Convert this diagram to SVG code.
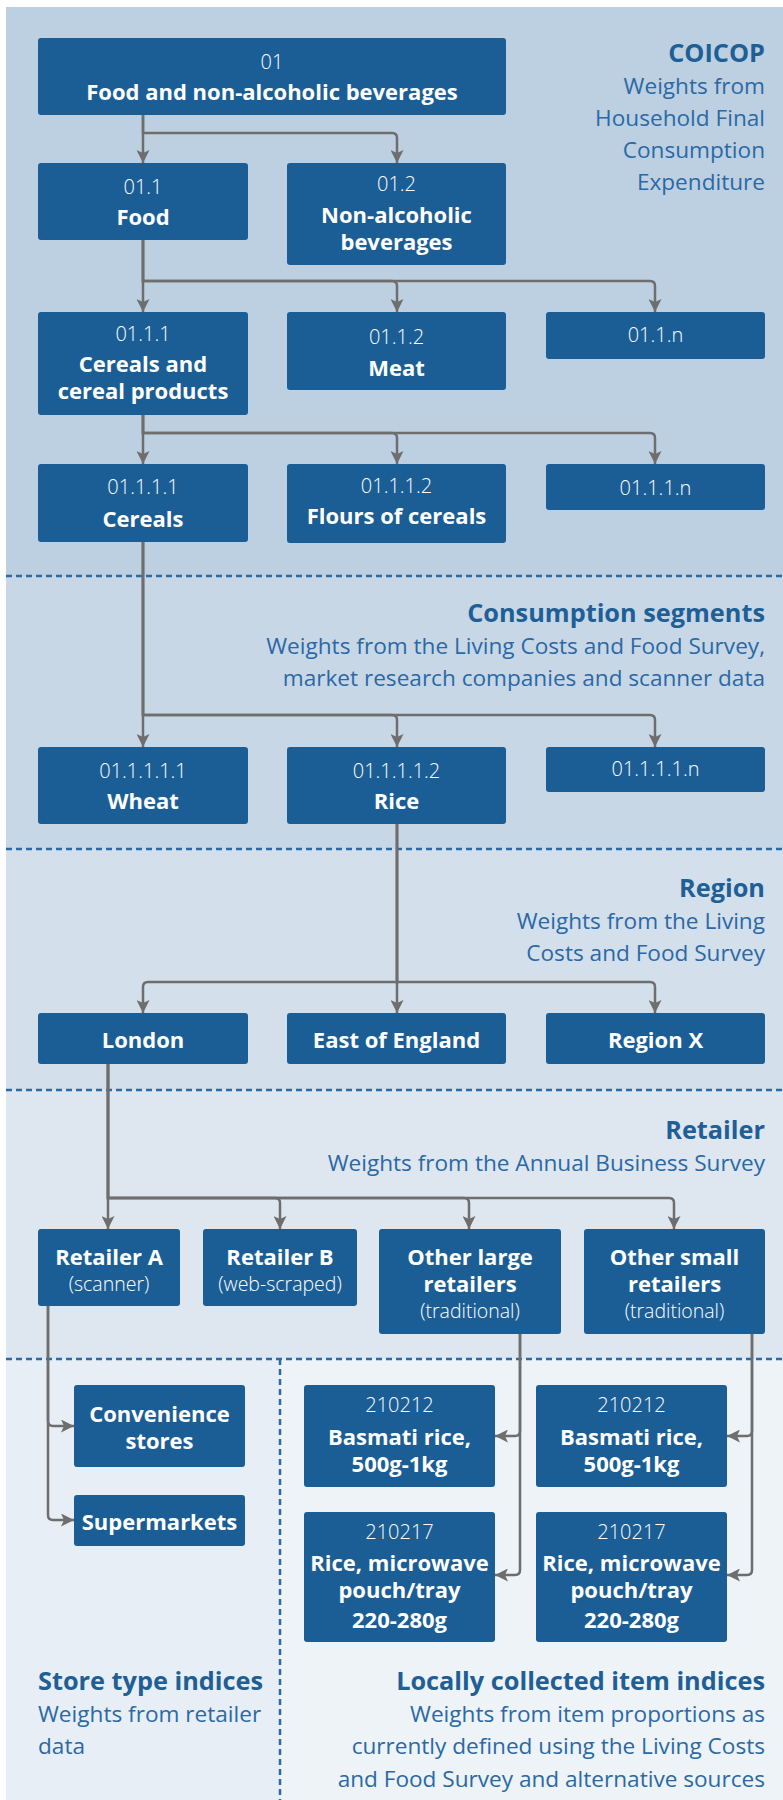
<svg xmlns="http://www.w3.org/2000/svg" width="783" height="1800" viewBox="0 0 783 1800">
<style>
.box{fill:#1b5e96}
.n{font-family:'Open Sans','Liberation Sans',sans-serif;font-weight:300;font-size:20px;fill:#fff;text-anchor:middle}
.b{font-family:'Open Sans','Liberation Sans',sans-serif;font-weight:700;font-size:22px;fill:#fff;text-anchor:middle}
.p{font-family:'Open Sans','Liberation Sans',sans-serif;font-weight:300;font-size:19.5px;fill:#fff;text-anchor:middle}
.t{font-family:'Open Sans','Liberation Sans',sans-serif;font-weight:700;font-size:25.3px;fill:#205f96;text-anchor:end}
.s{font-family:'Open Sans','Liberation Sans',sans-serif;font-weight:400;font-size:22.6px;fill:#2a69a5;text-anchor:end}
.c{fill:none;stroke:#6e6e6e;stroke-width:2.5;marker-end:url(#ah)}
.d{stroke:#2b6aa4;stroke-width:2.5;stroke-dasharray:6 4;fill:none}
</style>
<defs>
<marker id="ah" markerUnits="userSpaceOnUse" markerWidth="13" markerHeight="13" refX="13" refY="6.5" orient="auto">
<path d="M0,0 L13,6.5 L0,13 L3,6.5 z" fill="#6e6e6e"/>
</marker>
</defs>
<rect x="0" y="0" width="783" height="1800" fill="#fff"/>
<g id="backgrounds">
<rect x="6" y="7" width="777" height="569" fill="#bdd0e1"/>
<rect x="6" y="576" width="777" height="273" fill="#c8d7e6"/>
<rect x="6" y="849" width="777" height="241" fill="#d3dfeb"/>
<rect x="6" y="1090" width="777" height="269" fill="#dee6f0"/>
<rect x="6" y="1359" width="274" height="441" fill="#e8eef5"/>
<rect x="280" y="1359" width="503" height="441" fill="#eef3f8"/>
</g>
<g id="dividers">
<line class="d" x1="6" y1="576" x2="783" y2="576"/>
<line class="d" x1="6" y1="849" x2="783" y2="849"/>
<line class="d" x1="6" y1="1090" x2="783" y2="1090"/>
<line class="d" x1="6" y1="1359" x2="783" y2="1359"/>
<line class="d" x1="280" y1="1359" x2="280" y2="1800"/>
</g>
<g id="labels">
<text class="t" x="765" y="62">COICOP</text>
<text class="s" x="765" y="94">Weights from</text>
<text class="s" x="765" y="126">Household Final</text>
<text class="s" x="765" y="158">Consumption</text>
<text class="s" x="765" y="190">Expenditure</text>
<text class="t" x="765" y="622">Consumption segments</text>
<text class="s" x="765" y="654">Weights from the Living Costs and Food Survey,</text>
<text class="s" x="765" y="686">market research companies and scanner data</text>
<text class="t" x="765" y="897">Region</text>
<text class="s" x="765" y="929">Weights from the Living</text>
<text class="s" x="765" y="961">Costs and Food Survey</text>
<text class="t" x="765" y="1139">Retailer</text>
<text class="s" x="765" y="1171">Weights from the Annual Business Survey</text>
<text class="t" x="38" y="1690" style="text-anchor:start">Store type indices</text>
<text class="s" x="38" y="1722" style="text-anchor:start">Weights from retailer</text>
<text class="s" x="38" y="1754" style="text-anchor:start">data</text>
<text class="t" x="765" y="1690">Locally collected item indices</text>
<text class="s" x="765" y="1722">Weights from item proportions as</text>
<text class="s" x="765" y="1754">currently defined using the Living Costs</text>
<text class="s" x="765" y="1787">and Food Survey and alternative sources</text>
</g>
<g id="connectors">
<path class="c" d="M143 115 V163"/>
<path class="c" d="M143 115 V133 H392 Q397 133 397 138 V163"/>
<path class="c" d="M143 240 V312"/>
<path class="c" d="M143 240 V281 H392 Q397 281 397 286 V312"/>
<path class="c" d="M143 240 V281 H650 Q655 281 655 286 V312"/>
<path class="c" d="M143 415 V464"/>
<path class="c" d="M143 415 V433 H392 Q397 433 397 438 V464"/>
<path class="c" d="M143 415 V433 H650 Q655 433 655 438 V464"/>
<path class="c" d="M143 542 V747"/>
<path class="c" d="M143 542 V715 H392 Q397 715 397 720 V747"/>
<path class="c" d="M143 542 V715 H650 Q655 715 655 720 V747"/>
<path class="c" d="M397 824 V1013"/>
<path class="c" d="M397 824 V982 H148 Q143 982 143 987 V1013"/>
<path class="c" d="M397 824 V982 H650 Q655 982 655 987 V1013"/>
<path class="c" d="M108 1064 V1229"/>
<path class="c" d="M108 1064 V1198 H275 Q280 1198 280 1203 V1229"/>
<path class="c" d="M108 1064 V1198 H464 Q469 1198 469 1203 V1229"/>
<path class="c" d="M108 1064 V1198 H669 Q674 1198 674 1203 V1229"/>
<path class="c" d="M48 1306 V1421 Q48 1426 53 1426 H74"/>
<path class="c" d="M48 1306 V1515 Q48 1520 53 1520 H74"/>
<path class="c" d="M520 1334 V1431 Q520 1436 515 1436 H495"/>
<path class="c" d="M520 1334 V1570 Q520 1575 515 1575 H495"/>
<path class="c" d="M752 1334 V1431 Q752 1436 747 1436 H727"/>
<path class="c" d="M752 1334 V1570 Q752 1575 747 1575 H727"/>
</g>
<g id="n01"><rect class="box" x="38" y="38" width="468" height="77" rx="3"/><text class="n" x="272" y="69">01</text><text class="b" x="272" y="100">Food and non-alcoholic beverages</text></g>
<g id="n011"><rect class="box" x="38" y="163" width="210" height="77" rx="3"/><text class="n" x="143" y="194">01.1</text><text class="b" x="143" y="225">Food</text></g>
<g id="n012"><rect class="box" x="287" y="163" width="219" height="102" rx="3"/><text class="n" x="396.5" y="191">01.2</text><text class="b" x="396.5" y="223">Non-alcoholic</text><text class="b" x="396.5" y="250">beverages</text></g>
<g id="n0111"><rect class="box" x="38" y="312" width="210" height="103" rx="3"/><text class="n" x="143" y="341">01.1.1</text><text class="b" x="143" y="372">Cereals and</text><text class="b" x="143" y="399">cereal products</text></g>
<g id="n0112"><rect class="box" x="287" y="312" width="219" height="78" rx="3"/><text class="n" x="396.5" y="344">01.1.2</text><text class="b" x="396.5" y="376">Meat</text></g>
<g id="n011n"><rect class="box" x="546" y="312" width="219" height="47" rx="3"/><text class="n" x="655.5" y="342">01.1.n</text></g>
<g id="n01111"><rect class="box" x="38" y="464" width="210" height="78" rx="3"/><text class="n" x="143" y="494">01.1.1.1</text><text class="b" x="143" y="527">Cereals</text></g>
<g id="n01112"><rect class="box" x="287" y="464" width="219" height="79" rx="3"/><text class="n" x="396.5" y="493">01.1.1.2</text><text class="b" x="396.5" y="524">Flours of cereals</text></g>
<g id="n0111n"><rect class="box" x="546" y="464" width="219" height="46" rx="3"/><text class="n" x="655.5" y="495">01.1.1.n</text></g>
<g id="n011111"><rect class="box" x="38" y="747" width="210" height="77" rx="3"/><text class="n" x="143" y="778">01.1.1.1.1</text><text class="b" x="143" y="809">Wheat</text></g>
<g id="n011112"><rect class="box" x="287" y="747" width="219" height="77" rx="3"/><text class="n" x="396.5" y="778">01.1.1.1.2</text><text class="b" x="396.5" y="809">Rice</text></g>
<g id="n01111n"><rect class="box" x="546" y="747" width="219" height="45" rx="3"/><text class="n" x="655.5" y="776">01.1.1.1.n</text></g>
<g id="london"><rect class="box" x="38" y="1013" width="210" height="51" rx="3"/><text class="b" x="143" y="1048">London</text></g>
<g id="east"><rect class="box" x="287" y="1013" width="219" height="51" rx="3"/><text class="b" x="396.5" y="1048">East of England</text></g>
<g id="regionx"><rect class="box" x="546" y="1013" width="219" height="51" rx="3"/><text class="b" x="655.5" y="1048">Region X</text></g>
<g id="retailerA"><rect class="box" x="38" y="1229" width="142" height="77" rx="3"/><text class="b" x="109" y="1265">Retailer A</text><text class="p" x="109" y="1291">(scanner)</text></g>
<g id="retailerB"><rect class="box" x="203" y="1229" width="154" height="77" rx="3"/><text class="b" x="280" y="1265">Retailer B</text><text class="p" x="280" y="1291">(web-scraped)</text></g>
<g id="otherlarge"><rect class="box" x="379" y="1229" width="182" height="105" rx="3"/><text class="b" x="470" y="1265">Other large</text><text class="b" x="470" y="1292">retailers</text><text class="p" x="470" y="1318">(traditional)</text></g>
<g id="othersmall"><rect class="box" x="584" y="1229" width="181" height="105" rx="3"/><text class="b" x="674.5" y="1265">Other small</text><text class="b" x="674.5" y="1292">retailers</text><text class="p" x="674.5" y="1318">(traditional)</text></g>
<g id="convenience"><rect class="box" x="74" y="1385" width="171" height="82" rx="3"/><text class="b" x="159.5" y="1422">Convenience</text><text class="b" x="159.5" y="1449">stores</text></g>
<g id="supermarkets"><rect class="box" x="74" y="1495" width="171" height="51" rx="3"/><text class="b" x="159.5" y="1530">Supermarkets</text></g>
<g id="basmatiL"><rect class="box" x="304" y="1385" width="191" height="102" rx="3"/><text class="n" x="399.5" y="1412">210212</text><text class="b" x="399.5" y="1445">Basmati rice,</text><text class="b" x="399.5" y="1472">500g-1kg</text></g>
<g id="basmatiR"><rect class="box" x="536" y="1385" width="191" height="102" rx="3"/><text class="n" x="631.5" y="1412">210212</text><text class="b" x="631.5" y="1445">Basmati rice,</text><text class="b" x="631.5" y="1472">500g-1kg</text></g>
<g id="microL"><rect class="box" x="304" y="1512" width="191" height="130" rx="3"/><text class="n" x="399.5" y="1539">210217</text><text class="b" x="399.5" y="1571">Rice, microwave</text><text class="b" x="399.5" y="1598">pouch/tray</text><text class="b" x="399.5" y="1628">220-280g</text></g>
<g id="microR"><rect class="box" x="536" y="1512" width="191" height="130" rx="3"/><text class="n" x="631.5" y="1539">210217</text><text class="b" x="631.5" y="1571">Rice, microwave</text><text class="b" x="631.5" y="1598">pouch/tray</text><text class="b" x="631.5" y="1628">220-280g</text></g>
</svg>
